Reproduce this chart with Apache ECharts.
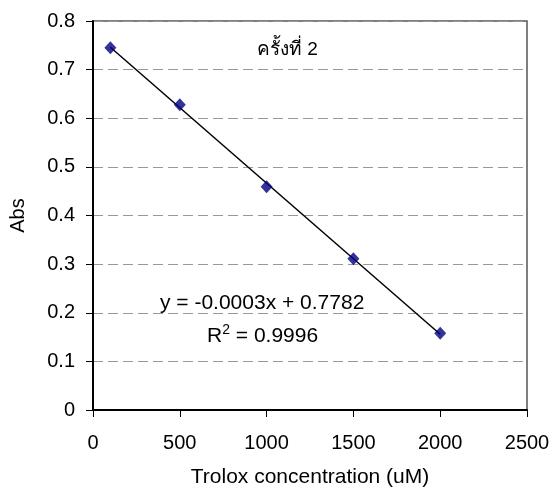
<!DOCTYPE html>
<html>
<head>
<meta charset="utf-8">
<script src="https://cdn.jsdelivr.net/npm/echarts@6/dist/echarts.min.js"></script>
<style>html,body{margin:0;padding:0;background:#fff}#c{width:553px;height:497px}</style>
</head>
<body>
<div id="c"></div>
<script>
var concentration = [100, 500, 1000, 1500, 2000];
var absorbance = [0.745, 0.628, 0.459, 0.311, 0.158];
var xTicks = [0, 500, 1000, 1500, 2000, 2500];
var yTicks = [0, 0.1, 0.2, 0.3, 0.4, 0.5, 0.6, 0.7, 0.8];
var titleText = 'ครั้งที่ 2';
var equationText = 'y = -0.0003x + 0.7782';
var r2Value = '0.9996';
var xName = 'Trolox concentration (uM)';
var yName = 'Abs';

// least-squares trend line through the data
var n = concentration.length, mx = 0, my = 0;
for (var i = 0; i < n; i++) { mx += concentration[i]; my += absorbance[i]; }
mx /= n; my /= n;
var sxy = 0, sxx = 0;
for (var i = 0; i < n; i++) { sxy += (concentration[i]-mx)*(absorbance[i]-my); sxx += (concentration[i]-mx)*(concentration[i]-mx); }
var slope = sxy / sxx, intercept = my - slope * mx;
var xFirst = concentration[0], xLast = concentration[n-1];
var trend = [[xFirst, intercept + slope*xFirst], [xLast, intercept + slope*xLast]];

var FONT = 'Liberation Sans, Arial, sans-serif';
var chart = echarts.init(document.getElementById('c'), null, {renderer: 'canvas'});
chart.setOption({
  animation: false,
  backgroundColor: '#fff',
  grid: {left: 92, top: 21, right: 26, bottom: 87, show: true, borderColor: '#555', borderWidth: 1.5, backgroundColor: 'transparent'},
  xAxis: {
    type: 'value', min: xTicks[0], max: xTicks[xTicks.length-1], interval: 500,
    name: xName, nameLocation: 'middle', nameGap: 57,
    nameTextStyle: {fontFamily: FONT, fontSize: 21, color: '#000'},
    axisLine: {show: true, onZero: false, lineStyle: {color: '#000', width: 2}},
    axisTick: {show: true, length: 7, lineStyle: {color: '#000', width: 1}},
    axisLabel: {fontFamily: FONT, fontSize: 20, color: '#000', margin: 23,
      formatter: function (v) { return String(v); }},
    splitLine: {show: false}
  },
  yAxis: {
    type: 'value', min: yTicks[0], max: yTicks[yTicks.length-1], interval: 0.1,
    name: yName, nameLocation: 'middle', nameGap: 65, nameRotate: 90,
    nameTextStyle: {fontFamily: FONT, fontSize: 20, color: '#000'},
    axisLine: {show: true, onZero: false, lineStyle: {color: '#000', width: 2}},
    axisTick: {show: true, length: 7, lineStyle: {color: '#000', width: 1}},
    axisLabel: {fontFamily: FONT, fontSize: 20, color: '#000', margin: 18,
      formatter: function (v) { return v === 0 ? '0' : v.toFixed(1); }},
    splitLine: {show: true, lineStyle: {color: '#999', type: [10, 5], width: 1}}
  },
  series: [
    {type: 'line', data: trend, symbol: 'none', lineStyle: {color: '#000', width: 1.5}, z: 2},
    {type: 'scatter', data: concentration.map(function (x, i) { return [x, absorbance[i]]; }),
      symbol: 'diamond', symbolSize: [12, 13], itemStyle: {color: '#000080'}, z: 3}
  ],
  graphic: [
    {type: 'text', left: 257, top: 40, style: {text: titleText, font: '19px ' + FONT, fill: '#000'}},
    {type: 'text', left: 160, top: 293, style: {text: equationText, font: '21px ' + FONT, fill: '#000'}},
    {type: 'text', left: 207, top: 323, style: {
      text: '{a|R}{s|2}{a| = ' + r2Value + '}',
      rich: {a: {fontFamily: FONT, fontSize: 21, color: '#000', verticalAlign: 'bottom'},
             s: {fontFamily: FONT, fontSize: 14, color: '#000', verticalAlign: 'top', padding: [0, 0, 10, 0]}}
    }}
  ]
});
</script>
</body>
</html>
